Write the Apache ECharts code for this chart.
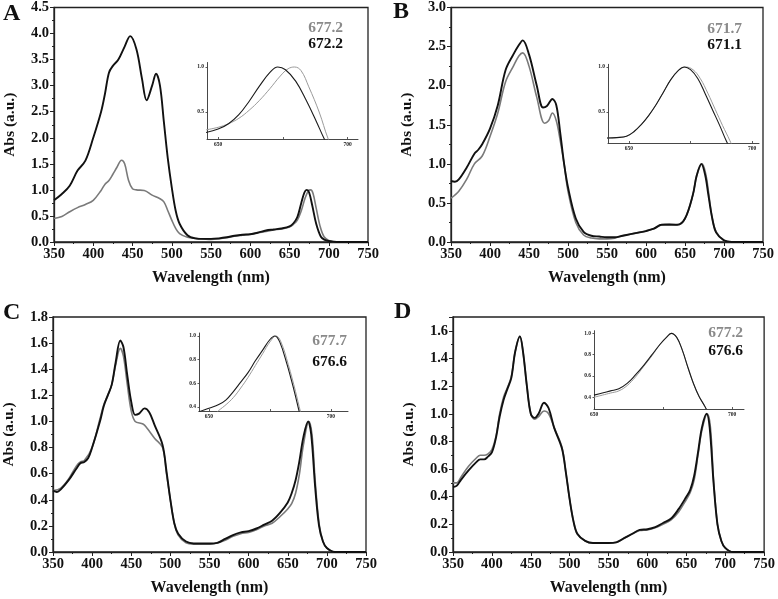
<!DOCTYPE html>
<html><head><meta charset="utf-8">
<script src="https://cdn.jsdelivr.net/npm/echarts@6/dist/echarts.min.js"></script>
<style>html,body{margin:0;padding:0;background:#fff}#c{width:778px;height:599px}</style>
</head><body><div id="c"></div>
<script>
// ---------- Panel A ----------
const aBlackWl = [350,360,370,380,390,400,410,415,420,425,432,440,447,455,462,468,475,480,485,490,495,500,505,510,520,530,540,550,560,570,580,590,600,610,620,630,640,650,655,660,665,669,672,675,679,684,690,695,700,710,750];
const aBlack   = [0.8,0.92,1.08,1.37,1.56,2.0,2.5,2.85,3.25,3.38,3.5,3.75,3.95,3.7,3.14,2.72,3.0,3.23,3.0,2.3,1.6,1.05,0.6,0.35,0.13,0.07,0.06,0.06,0.07,0.09,0.12,0.14,0.15,0.18,0.22,0.24,0.26,0.3,0.36,0.48,0.75,0.95,1.0,0.95,0.7,0.35,0.1,0.04,0.02,0.0,0.0];
const aGrayWl  = [350,360,370,380,390,400,410,415,420,425,430,436,440,445,450,455,465,475,485,490,495,500,505,510,520,530,540,550,560,570,580,590,600,610,620,630,640,650,655,660,665,670,674,677,680,684,689,694,700,710,750];
const aGray    = [0.45,0.49,0.58,0.66,0.72,0.8,0.99,1.11,1.18,1.3,1.43,1.57,1.5,1.18,1.02,1.0,0.99,0.9,0.83,0.77,0.6,0.42,0.26,0.16,0.09,0.07,0.06,0.05,0.06,0.08,0.11,0.13,0.15,0.18,0.2,0.23,0.25,0.29,0.34,0.42,0.6,0.85,0.98,1.0,0.93,0.65,0.3,0.1,0.03,0.0,0.0];
const aInsBlackWl = [645,650,654,658,662,666,670,673,676,680,684,688,691,694];
const aInsBlack   = [0.27,0.31,0.37,0.47,0.62,0.79,0.94,1.0,0.97,0.84,0.63,0.39,0.2,0.05];
const aInsGrayWl  = [645,650,654,658,662,666,670,674,677,679.5,682,685,689,692.5,695];
const aInsGray    = [0.30,0.33,0.37,0.43,0.52,0.63,0.76,0.9,0.98,1.0,0.96,0.78,0.5,0.2,0.05];

// ---------- Panel B ----------
const bBlackWl = [350,355,360,370,380,385,390,400,410,420,430,437,442,450,460,468,473,480,485,490,495,500,510,520,530,540,550,560,570,580,590,600,610,620,630,640,650,660,665,671,676,680,685,690,700,710,750];
const bBlack   = [0.78,0.77,0.8,0.95,1.13,1.18,1.25,1.45,1.75,2.2,2.4,2.52,2.58,2.4,2.0,1.72,1.74,1.83,1.75,1.4,1.0,0.7,0.3,0.13,0.08,0.07,0.06,0.06,0.08,0.1,0.12,0.14,0.17,0.22,0.22,0.22,0.3,0.6,0.85,1.0,0.85,0.6,0.3,0.12,0.02,0.0,0.0];
const bGrayWl  = [350,360,370,380,390,400,410,420,430,437,442,450,460,470,475,480,485,490,495,500,510,520,530,540,550,560,570,580,590,600,610,620,630,640,650,660,665,672,677,680,685,690,700,710,750];
const bGray    = [0.56,0.65,0.8,1.0,1.1,1.35,1.65,2.05,2.25,2.38,2.42,2.25,1.85,1.52,1.55,1.65,1.55,1.3,1.0,0.65,0.25,0.09,0.05,0.04,0.04,0.05,0.08,0.1,0.12,0.14,0.17,0.22,0.23,0.22,0.3,0.6,0.85,1.0,0.85,0.65,0.3,0.13,0.02,0.0,0.0];
const bInsBlackWl = [641,645,649,652,655,658,661,664,667,670,672.5,675,678,681,684,687,689.5,692];
const bInsBlack   = [0.21,0.215,0.23,0.28,0.36,0.46,0.58,0.72,0.86,0.96,1.0,0.97,0.87,0.7,0.52,0.34,0.18,0.05];
const bInsGrayWl  = [641,645,649,652,655,658,661,664,667,670,673,676,679,682,685,688,691,693];
const bInsGray    = [0.21,0.215,0.23,0.28,0.36,0.46,0.58,0.72,0.86,0.96,1.0,0.97,0.87,0.71,0.53,0.35,0.18,0.05];

// ---------- Panel C ----------
const cBlackWl = [350,355,360,370,380,385,390,395,400,410,415,420,425,430,436,440,445,450,455,460,467,473,480,490,495,500,505,510,520,530,540,550,560,570,580,590,600,610,620,630,640,650,655,660,665,670,676,680,685,690,695,700,710,750];
const cBlack   = [0.47,0.46,0.48,0.55,0.64,0.68,0.69,0.72,0.8,1.0,1.12,1.2,1.28,1.45,1.62,1.57,1.35,1.15,1.05,1.06,1.1,1.07,0.97,0.82,0.62,0.4,0.22,0.14,0.08,0.065,0.065,0.065,0.07,0.1,0.13,0.15,0.16,0.18,0.21,0.24,0.3,0.38,0.45,0.55,0.7,0.88,1.0,0.9,0.5,0.2,0.08,0.03,0.0,0.0];
const cGrayWl  = [350,360,370,380,385,390,400,410,415,420,425,430,436,440,445,450,455,465,470,480,490,495,500,505,510,520,530,540,550,560,570,580,590,600,610,620,630,640,650,655,660,665,670,677,681,685,690,695,700,710,750];
const cGray    = [0.47,0.49,0.56,0.66,0.69,0.7,0.8,1.02,1.13,1.2,1.28,1.43,1.56,1.5,1.28,1.08,1.0,0.98,0.95,0.87,0.8,0.6,0.4,0.22,0.13,0.07,0.06,0.06,0.06,0.07,0.09,0.12,0.14,0.15,0.17,0.2,0.22,0.27,0.33,0.37,0.45,0.6,0.82,1.0,0.9,0.55,0.22,0.08,0.03,0.0,0.0];
const cInsBlackWl = [644,646,650,654,657,660,663,666,669,672,675,677,679,682,685,687,689];
const cInsBlack   = [0.34,0.36,0.39,0.42,0.46,0.53,0.61,0.69,0.79,0.88,0.97,1.0,0.95,0.76,0.53,0.36,0.2];
const cInsGrayWl  = [652,654,657,660,663,666,669,672,675,677.5,679.5,682.5,685.5,687.5,689.5];
const cInsGray    = [0.33,0.37,0.42,0.48,0.56,0.65,0.75,0.85,0.95,1.0,0.95,0.76,0.53,0.36,0.2];

// ---------- Panel D ----------
const dBlackWl = [350,355,360,370,380,385,390,395,400,405,410,415,420,425,430,436,440,445,450,455,460,467,473,480,490,495,500,505,510,520,530,540,550,560,570,580,590,600,610,620,630,640,650,655,660,665,670,676,680,685,690,695,700,710,750];
const dBlack   = [0.47,0.48,0.52,0.59,0.65,0.67,0.67,0.69,0.72,0.82,0.98,1.1,1.18,1.26,1.45,1.56,1.45,1.2,1.0,0.97,1.0,1.08,1.04,0.9,0.75,0.58,0.38,0.22,0.13,0.08,0.065,0.065,0.065,0.07,0.1,0.13,0.16,0.165,0.18,0.21,0.24,0.31,0.4,0.45,0.55,0.72,0.9,1.0,0.9,0.5,0.2,0.08,0.03,0.0,0.0];
const dGrayWl  = [350,355,360,370,380,385,390,395,400,405,410,415,420,425,430,436,440,445,450,455,460,467,473,480,490,495,500,505,510,520,530,540,550,560,570,580,590,600,610,620,630,640,650,655,660,665,670,677,681,685,690,695,700,710,750];
const dGray    = [0.5,0.5,0.54,0.62,0.68,0.7,0.7,0.71,0.74,0.83,1.0,1.12,1.19,1.27,1.45,1.56,1.45,1.2,1.0,0.96,0.98,1.02,1.0,0.9,0.76,0.58,0.38,0.22,0.13,0.08,0.065,0.065,0.065,0.07,0.1,0.13,0.155,0.16,0.175,0.2,0.23,0.29,0.38,0.43,0.52,0.7,0.88,1.0,0.9,0.52,0.2,0.08,0.03,0.0,0.0];
const dInsBlackWl = [650,653,656,659,662,665,668,671,674,676.5,678,680,682,684,686,688,690,692];
const dInsBlack   = [0.42,0.44,0.46,0.48,0.53,0.61,0.70,0.80,0.90,0.97,1.0,0.96,0.84,0.68,0.53,0.41,0.32,0.22];
const dInsGrayWl  = [650,653,656,659,662,665,668,671,674,676.5,678,680,682,684,686,688,690,692];
const dInsGray    = [0.40,0.42,0.44,0.46,0.51,0.59,0.69,0.79,0.90,0.97,1.0,0.96,0.84,0.68,0.53,0.41,0.32,0.22];

// ---------- Text ----------
const panelLetters = ['A','B','C','D'];
const peakGray  = ['677.2','671.7','677.7','677.2'];
const peakBlack = ['672.2','671.1','676.6','676.6'];
const yMax      = [4.5, 3.0, 1.8, 1.7];
const yStep     = [0.5, 0.5, 0.2, 0.2];
const xTickLabels = [350,400,450,500,550,600,650,700,750];

const FONT = "'Liberation Serif','Times New Roman',serif";
const pairs = (xs, ys) => xs.map((x, i) => [x, ys[i]]);

// layout
const mainGrids = [
  {left:54, top:5, width:314, height:237},
  {left:451, top:7, width:312, height:235},
  {left:52, top:317, width:314, height:235},
  {left:453, top:317, width:314, height:235}
];
const insetGrids = [
  {left:207, top:62.5, width:151, height:76.5, xmin:645.7, xmax:704, ymin:0.2, ymax:1.05, ylabels:[0.5,1.0]},
  {left:608, top:64.3, width:151, height:78.7, xmin:641.5, xmax:702.8, ymin:0.155, ymax:1.03, ylabels:[0.5,1.0]},
  {left:199, top:333, width:149, height:78, xmin:645.9, xmax:707, ymin:0.366, ymax:1.025, ylabels:[0.4,0.6,0.8,1.0]},
  {left:594, top:330.7, width:150, height:78.3, xmin:650, xmax:704.3, ymin:0.29, ymax:1.025, ylabels:[0.4,0.6,0.8,1.0]}
];
const mainData = [
  [pairs(aGrayWl,aGray), pairs(aBlackWl,aBlack)],
  [pairs(bGrayWl,bGray), pairs(bBlackWl,bBlack)],
  [pairs(cGrayWl,cGray), pairs(cBlackWl,cBlack)],
  [pairs(dGrayWl,dGray), pairs(dBlackWl,dBlack)]
];
const insetData = [
  [pairs(aInsGrayWl,aInsGray), pairs(aInsBlackWl,aInsBlack)],
  [pairs(bInsGrayWl,bInsGray), pairs(bInsBlackWl,bInsBlack)],
  [pairs(cInsGrayWl,cInsGray), pairs(cInsBlackWl,cInsBlack)],
  [pairs(dInsGrayWl,dInsGray), pairs(dInsBlackWl,dInsBlack)]
];
const legendPos = [
  {right:343, y1:28, y2:44},
  {right:742, y1:29, y2:45},
  {right:347, y1:341, y2:362},
  {right:743, y1:333, y2:351}
];
const letterPos = [{x:3,y:14},{x:393,y:12},{x:3,y:313},{x:394,y:312}];

const grid = [], xAxis = [], yAxis = [], series = [], graphic = [];
for (let p = 0; p < 4; p++) {
  const g = mainGrids[p];
  grid.push({left:g.left, top:g.top, width:g.width, height:g.height, show:true, borderColor:'#222', borderWidth:1.3, containLabel:false});
  const gi = grid.length - 1;
  xAxis.push({type:'value', gridIndex:gi, min:350, max:750, interval:50,
    name:'Wavelength (nm)', nameLocation:'middle', nameGap:28,
    nameTextStyle:{fontFamily:FONT, fontWeight:'bold', fontSize:16, color:'#111'},
    axisLine:{lineStyle:{color:'#222', width:1.3}},
    axisTick:{length:4, lineStyle:{color:'#222'}},
    minorTick:{show:true, splitNumber:2, length:2, lineStyle:{color:'#222'}},
    splitLine:{show:false},
    axisLabel:{fontFamily:FONT, fontWeight:'bold', fontSize:14.5, color:'#111', margin:5,
      customValues:xTickLabels}
  });
  yAxis.push({type:'value', gridIndex:gi, min:0, max:yMax[p], interval:yStep[p],
    name:'Abs (a.u.)', nameLocation:'middle', nameGap:36,
    nameTextStyle:{fontFamily:FONT, fontWeight:'bold', fontSize:15.5, color:'#111'},
    axisLine:{lineStyle:{color:'#222', width:1.3}},
    axisTick:{length:4, lineStyle:{color:'#222'}},
    minorTick:{show:true, splitNumber:2, length:2, lineStyle:{color:'#222'}},
    splitLine:{show:false},
    axisLabel:{fontFamily:FONT, fontWeight:'bold', fontSize:14.5, color:'#111', margin:5,
      showMaxLabel: p !== 3, formatter:v => v.toFixed(1)}
  });
  series.push({type:'line', xAxisIndex:xAxis.length-1, yAxisIndex:yAxis.length-1, data:mainData[p][0],
    smooth:0.35, symbol:'none', lineStyle:{color:'#7a7a7a', width:1.6}, z:2});
  series.push({type:'line', xAxisIndex:xAxis.length-1, yAxisIndex:yAxis.length-1, data:mainData[p][1],
    smooth:0.35, symbol:'none', lineStyle:{color:'#111', width:1.9}, z:3});

  const ig = insetGrids[p];
  grid.push({left:ig.left, top:ig.top, width:ig.width, height:ig.height, show:false});
  const ii = grid.length - 1;
  xAxis.push({type:'value', gridIndex:ii, min:ig.xmin, max:ig.xmax,
    axisLine:{onZero:false, lineStyle:{color:'#333', width:0.9}},
    axisTick:{inside:true, length:2, customValues:[650,675,700], lineStyle:{color:'#333', width:0.8}},
    splitLine:{show:false},
    axisLabel:{fontFamily:FONT, fontWeight:'bold', fontSize:5.5, color:'#222', margin:3,
      customValues:[650,700], formatter:v => String(Math.round(v))}
  });
  yAxis.push({type:'value', gridIndex:ii, min:ig.ymin, max:ig.ymax,
    axisLine:{onZero:false, lineStyle:{color:'#333', width:0.9}},
    axisTick:{length:1.5, customValues:ig.ylabels, lineStyle:{color:'#333', width:0.8}},
    splitLine:{show:false},
    axisLabel:{fontFamily:FONT, fontWeight:'bold', fontSize:5.5, color:'#222', margin:3,
      customValues:ig.ylabels, formatter:v => v.toFixed(1)}
  });
  series.push({type:'line', xAxisIndex:xAxis.length-1, yAxisIndex:yAxis.length-1, data:insetData[p][0],
    smooth:0.4, symbol:'none', clip:true, lineStyle:{color:'#9a9a9a', width:1}, z:4});
  series.push({type:'line', xAxisIndex:xAxis.length-1, yAxisIndex:yAxis.length-1, data:insetData[p][1],
    smooth:0.4, symbol:'none', clip:true, lineStyle:{color:'#1a1a1a', width:1.1}, z:5});

  const lp = legendPos[p];
  graphic.push({type:'text', x:lp.right, y:lp.y1, style:{text:peakGray[p], fill:'#8a8a8a',
    font:"bold 15.5px " + FONT, textAlign:'right', textVerticalAlign:'middle'}});
  graphic.push({type:'text', x:lp.right, y:lp.y2, style:{text:peakBlack[p], fill:'#111',
    font:"bold 15.5px " + FONT, textAlign:'right', textVerticalAlign:'middle'}});
  const L = letterPos[p];
  graphic.push({type:'text', x:L.x, y:L.y, style:{text:panelLetters[p], fill:'#111',
    font:"bold 24px " + FONT, textAlign:'left', textVerticalAlign:'middle'}});
}

const chart = echarts.init(document.getElementById('c'), null, {renderer:'canvas'});
chart.setOption({animation:false, backgroundColor:'#fff', grid, xAxis, yAxis, series, graphic});
</script></body></html>
